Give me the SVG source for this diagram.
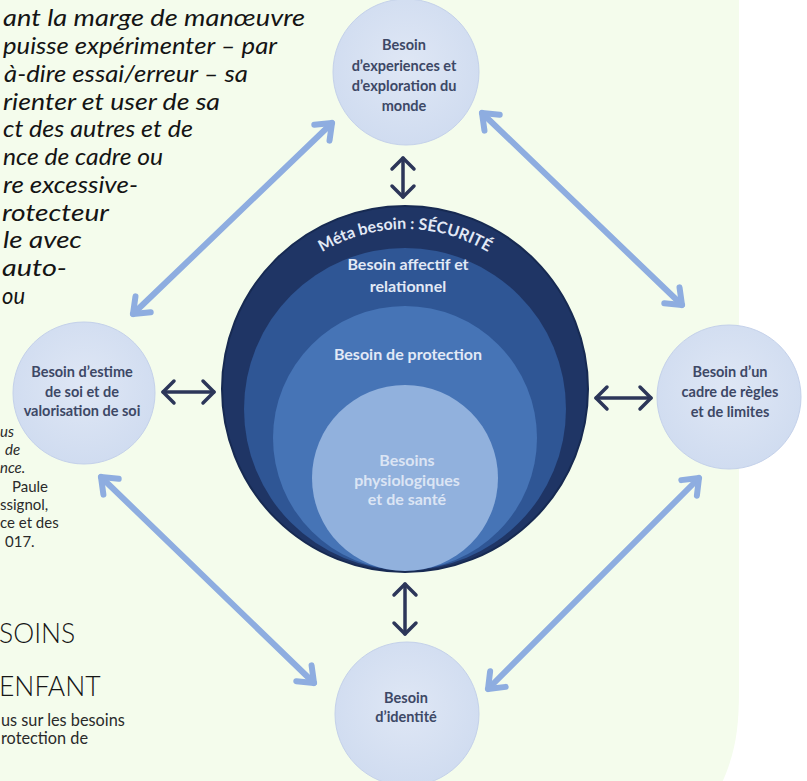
<svg xmlns="http://www.w3.org/2000/svg" width="807" height="781" viewBox="0 0 807 781">
  <defs>
    <style>
      .page { fill: #f4fcec; }
      .intro { font-family: "Lato", "Open Sans", sans-serif; font-style: italic; font-size: 24px; fill: #141414; }
      .note { font-family: "Lato", "Open Sans", sans-serif; font-size: 15px; fill: #2a2a2a; }
      .note-i { font-style: italic; }
      .title { font-family: "Lato", "Open Sans", sans-serif; font-weight: 300; font-size: 26.5px; fill: #161616; }
      .sub { font-family: "Lato", "Open Sans", sans-serif; font-size: 16.3px; fill: #2a2a2a; }
      .node-disc { fill: url(#discFill); stroke: #c4d1ea; stroke-width: 1; }
      .node-label { font-family: "Lato", "Open Sans", sans-serif; font-weight: 700; font-size: 14.5px; fill: #3d4866; text-anchor: middle; }
      .core-label { font-family: "Lato", "Open Sans", sans-serif; font-weight: 700; font-size: 16px; fill: #e2e9f6; text-anchor: middle; }
      .soft { fill: #e9eff9; opacity: 0.85; }
      .link-light { stroke: #8eade0; stroke-width: 6; fill: none; stroke-linecap: round; }
      .link-dark { stroke: #2c3659; stroke-width: 3.5; fill: none; stroke-linecap: round; }
    </style>
    <radialGradient id="discFill" cx="50%" cy="45%" r="55%">
      <stop offset="0" stop-color="#dfe7f5"/>
      <stop offset="1" stop-color="#d0dcf0"/>
    </radialGradient>
    <marker id="headLight" viewBox="-20 -14 26 28" refX="0" refY="0" markerWidth="26" markerHeight="28" markerUnits="userSpaceOnUse" orient="auto-start-reverse" overflow="visible">
      <path d="M -14 -11 L 0 0 L -14 11" fill="none" stroke="#8eade0" stroke-width="6" stroke-linecap="round" stroke-linejoin="round"/>
    </marker>
    <marker id="headDark" viewBox="-16 -14 20 28" refX="0" refY="0" markerWidth="20" markerHeight="28" markerUnits="userSpaceOnUse" orient="auto-start-reverse" overflow="visible">
      <path d="M -11 -11 L 0 0 L -11 11" fill="none" stroke="#2c3659" stroke-width="3.5" stroke-linecap="round" stroke-linejoin="round"/>
    </marker>
    <path id="metaArc" d="M 245 389 A 160 160 0 0 1 565 389"/>
  </defs>

  <!-- page background with rounded lower-right corner -->
  <rect width="807" height="781" fill="#ffffff"/>
  <path class="page" d="M0 0 H739 V690 C739 735 734 760 716 795 H0 Z"/>

  <!-- running text on the left page -->
  <g id="intro-text" class="intro">
    <text x="3" y="26" textLength="302" lengthAdjust="spacingAndGlyphs">ant la marge de manœuvre</text>
    <text x="3" y="54" textLength="274" lengthAdjust="spacingAndGlyphs">puisse expérimenter – par</text>
    <text x="4" y="82" textLength="244" lengthAdjust="spacingAndGlyphs">à-dire essai/erreur – sa</text>
    <text x="3" y="110" textLength="217" lengthAdjust="spacingAndGlyphs">rienter et user de sa</text>
    <text x="3" y="137" textLength="190" lengthAdjust="spacingAndGlyphs">ct des autres et de</text>
    <text x="3" y="165" textLength="160" lengthAdjust="spacingAndGlyphs">nce de cadre ou</text>
    <text x="3" y="193" textLength="135" lengthAdjust="spacingAndGlyphs">re excessive-</text>
    <text x="2" y="221" textLength="107" lengthAdjust="spacingAndGlyphs">rotecteur</text>
    <text x="3" y="248" textLength="79" lengthAdjust="spacingAndGlyphs">le avec</text>
    <text x="2" y="276" textLength="65" lengthAdjust="spacingAndGlyphs">auto-</text>
    <text x="2" y="304" textLength="23" lengthAdjust="spacingAndGlyphs">ou</text>
  </g>

  <g id="source-note" class="note">
    <text x="0" y="437" class="note-i">us</text>
    <text x="5" y="455" class="note-i">de</text>
    <text x="0" y="473" class="note-i">nce.</text>
    <text x="12" y="492">Paule</text>
    <text x="0" y="510">ssignol,</text>
    <text x="0" y="528">ce et des</text>
    <text x="5" y="547">017.</text>
  </g>

  <g id="heading">
    <text class="title" x="-1" y="643">SOINS</text>
    <text class="title" x="-1" y="696">ENFANT</text>
    <text class="sub" x="1" y="726">us sur les besoins</text>
    <text class="sub" x="1" y="744">rotection de</text>
  </g>

  <!-- connectors between the needs -->
  <g id="connectors">
    <line class="link-light" x1="133" y1="314" x2="332" y2="123" marker-start="url(#headLight)" marker-end="url(#headLight)"/>
    <line class="link-light" x1="482" y1="113" x2="682" y2="305" marker-start="url(#headLight)" marker-end="url(#headLight)"/>
    <line class="link-light" x1="101" y1="477" x2="314" y2="683" marker-start="url(#headLight)" marker-end="url(#headLight)"/>
    <line class="link-light" x1="488" y1="689" x2="699" y2="478" marker-start="url(#headLight)" marker-end="url(#headLight)"/>
    <line class="link-dark" x1="403" y1="158" x2="403" y2="197" marker-start="url(#headDark)" marker-end="url(#headDark)"/>
    <line class="link-dark" x1="405" y1="584" x2="405" y2="634" marker-start="url(#headDark)" marker-end="url(#headDark)"/>
    <line class="link-dark" x1="163" y1="392" x2="214" y2="392" marker-start="url(#headDark)" marker-end="url(#headDark)"/>
    <line class="link-dark" x1="596" y1="398" x2="651" y2="398" marker-start="url(#headDark)" marker-end="url(#headDark)"/>
  </g>

  <!-- central nested needs -->
  <g id="core">
    <circle cx="405" cy="389" r="183" fill="#1f3565" stroke="#172a52" stroke-width="2"/>
    <circle cx="405" cy="409" r="161" fill="#2f5695"/>
    <circle cx="405" cy="438" r="132" fill="#4674b6"/>
    <circle cx="405" cy="478" r="93" fill="#91b1dd"/>
    <text class="core-label" font-size="14">
      <textPath href="#metaArc" startOffset="50%">Méta besoin : SÉCURITÉ</textPath>
    </text>
    <text class="core-label" x="408" y="270">Besoin affectif et</text>
    <text class="core-label" x="408" y="292">relationnel</text>
    <text class="core-label" x="408" y="360" font-size="15">Besoin de protection</text>
    <text class="core-label soft" x="407" y="466">Besoins</text>
    <text class="core-label soft" x="407" y="486">physiologiques</text>
    <text class="core-label soft" x="407" y="505">et de santé</text>
  </g>

  <g id="node-exploration">
    <circle class="node-disc" cx="406" cy="72" r="73"/>
    <text class="node-label" x="404" y="50">Besoin</text>
    <text class="node-label" x="404" y="71">d’experiences et</text>
    <text class="node-label" x="404" y="91">d’exploration du</text>
    <text class="node-label" x="404" y="111">monde</text>
  </g>

  <g id="node-estime">
    <circle class="node-disc" cx="84" cy="393" r="71"/>
    <text class="node-label" x="82" y="377">Besoin d’estime</text>
    <text class="node-label" x="82" y="397">de soi et de</text>
    <text class="node-label" x="82" y="416">valorisation de soi</text>
  </g>

  <g id="node-cadre">
    <circle class="node-disc" cx="729" cy="397" r="72"/>
    <text class="node-label" x="730" y="377">Besoin d’un</text>
    <text class="node-label" x="730" y="397">cadre de règles</text>
    <text class="node-label" x="730" y="417">et de limites</text>
  </g>

  <g id="node-identite">
    <circle class="node-disc" cx="407" cy="714" r="72"/>
    <text class="node-label" x="406" y="703">Besoin</text>
    <text class="node-label" x="406" y="722">d’identité</text>
  </g>
</svg>
